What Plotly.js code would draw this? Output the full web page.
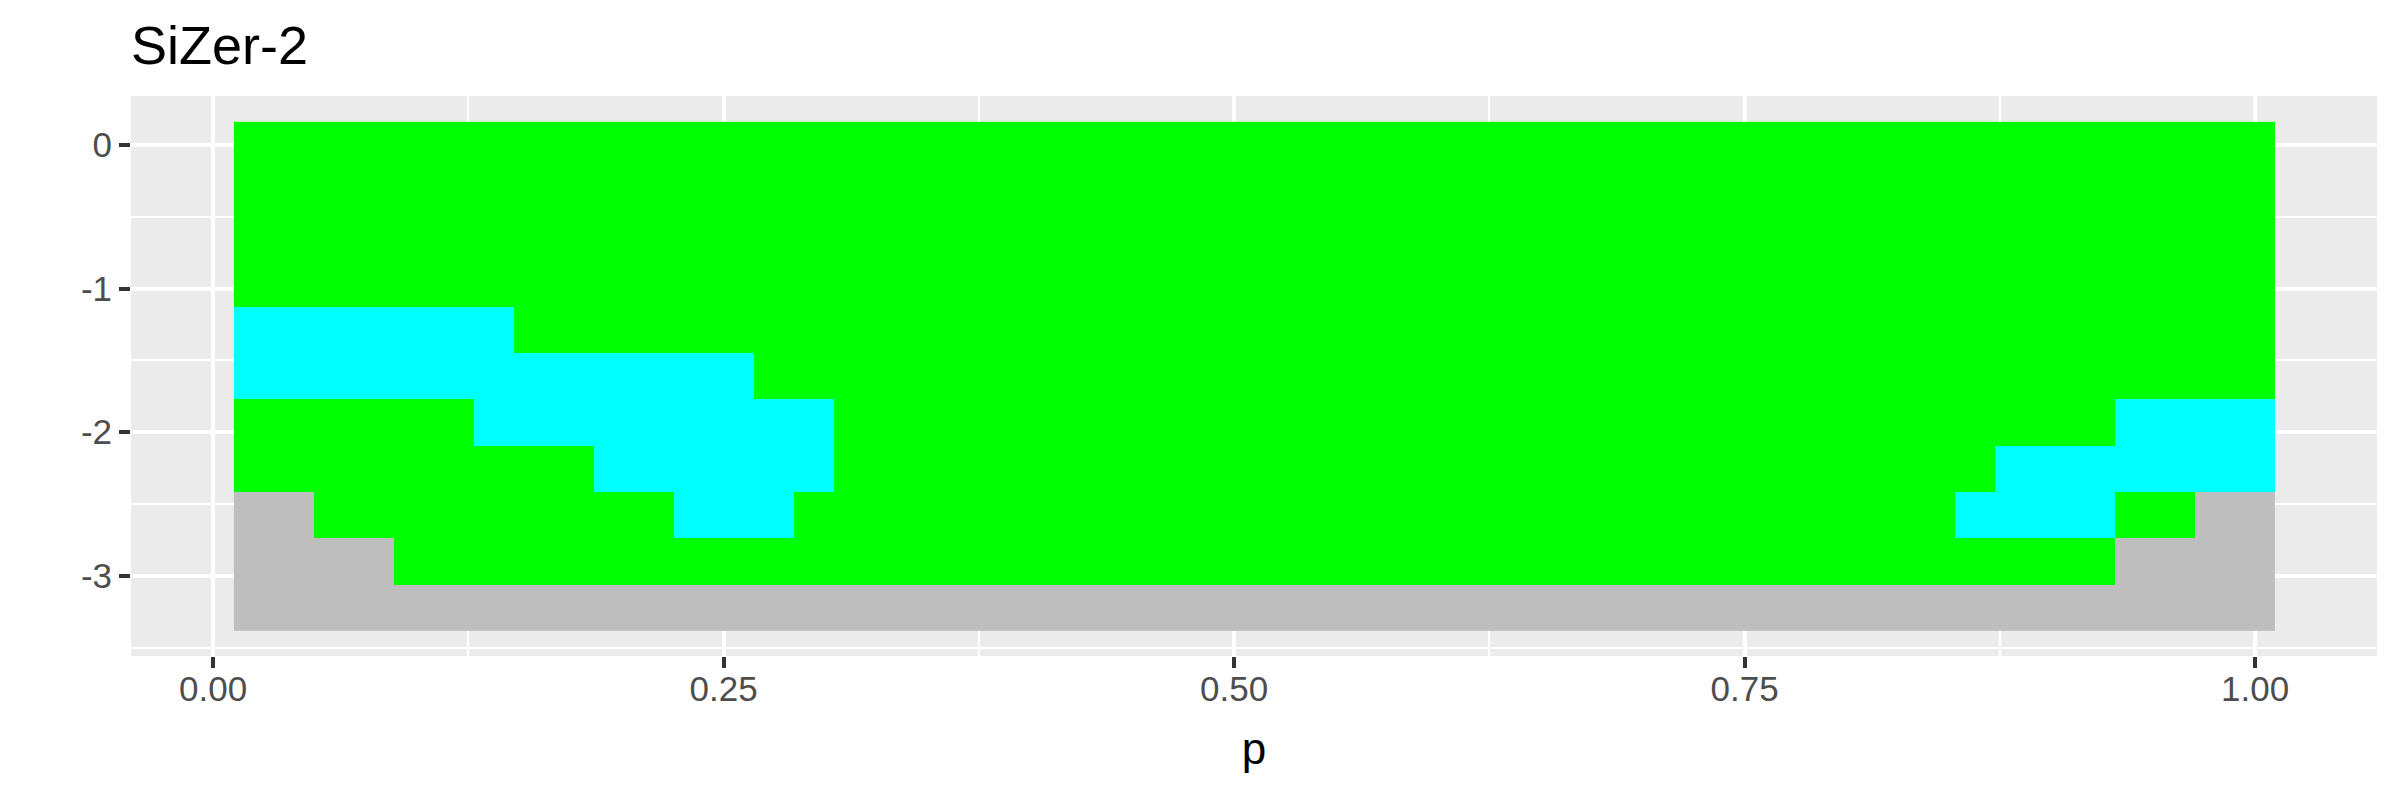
<!DOCTYPE html>
<html>
<head>
<meta charset="utf-8">
<script src="https://cdn.plot.ly/plotly-3.0.1.min.js"></script>
<style>html,body{margin:0;padding:0;background:#fff;}#chart{width:2400px;height:793px;}</style>
</head>
<body>
<div id="chart"></div>
<script>
// Location grid (cell centres along p)
const p = [0.0200, 0.0396, 0.0592, 0.0788, 0.0984, 0.1180, 0.1376, 0.1572, 0.1768, 0.1964,
           0.2160, 0.2356, 0.2552, 0.2748, 0.2944, 0.3140, 0.3336, 0.3532, 0.3728, 0.3924,
           0.4120, 0.4316, 0.4512, 0.4708, 0.4904, 0.5100, 0.5296, 0.5492, 0.5688, 0.5884,
           0.6080, 0.6276, 0.6472, 0.6668, 0.6864, 0.7060, 0.7256, 0.7452, 0.7648, 0.7844,
           0.8040, 0.8236, 0.8432, 0.8628, 0.8824, 0.9020, 0.9216, 0.9412, 0.9608, 0.9804,
           1.0000];
// Bandwidth grid (log scale), top row first
const logh = [0, -0.322, -0.644, -0.966, -1.288, -1.610, -1.932, -2.254, -2.576, -2.898, -3.220];
// Status per cell: G = green, C = cyan, X = grey (sparse data); one string per bandwidth row
const statusRows = [
  "GGGGGGGGGG GGGGGGGGGG GGGGGGGGGG GGGGGGGGGG GGGGGGGGGG G",
  "GGGGGGGGGG GGGGGGGGGG GGGGGGGGGG GGGGGGGGGG GGGGGGGGGG G",
  "GGGGGGGGGG GGGGGGGGGG GGGGGGGGGG GGGGGGGGGG GGGGGGGGGG G",
  "GGGGGGGGGG GGGGGGGGGG GGGGGGGGGG GGGGGGGGGG GGGGGGGGGG G",
  "CCCCCCCGGG GGGGGGGGGG GGGGGGGGGG GGGGGGGGGG GGGGGGGGGG G",
  "CCCCCCCCCC CCCGGGGGGG GGGGGGGGGG GGGGGGGGGG GGGGGGGGGG G",
  "GGGGGGCCCC CCCCCGGGGG GGGGGGGGGG GGGGGGGGGG GGGGGGGCCC C",
  "GGGGGGGGGC CCCCCGGGGG GGGGGGGGGG GGGGGGGGGG GGGGCCCCCC C",
  "XXGGGGGGGG GCCCGGGGGG GGGGGGGGGG GGGGGGGGGG GGGCCCCGGX X",
  "XXXXGGGGGG GGGGGGGGGG GGGGGGGGGG GGGGGGGGGG GGGGGGGXXX X",
  "XXXXXXXXXX XXXXXXXXXX XXXXXXXXXX XXXXXXXXXX XXXXXXXXXX X"
];
const statusCodes = ["X", "G", "C"];
const statusColors = ["#BEBEBE", "#00FF00", "#00FFFF"];

const xTicks = [0, 0.25, 0.5, 0.75, 1];
const xTickText = ["0.00", "0.25", "0.50", "0.75", "1.00"];
const yTicks = [0, -1, -2, -3];
const yTickText = ["0", "-1", "-2", "-3"];

const z = statusRows.map(r => r.replace(/ /g, "").split("").map(ch => statusCodes.indexOf(ch)));
const n = statusColors.length;
const colorscale = [];
statusColors.forEach((c, i) => {
  colorscale.push([i / n, c]);
  colorscale.push([(i + 1) / n, c]);
});

const font = "Liberation Sans, Arial, sans-serif";
const trace = {
  type: "heatmap",
  x: p,
  y: logh,
  z: z,
  zmin: -0.5,
  zmax: n - 0.5,
  colorscale: colorscale,
  showscale: false,
  hoverinfo: "skip"
};

const layout = {
  width: 2400,
  height: 793,
  margin: {l: 131, r: 23, t: 96, b: 137},
  paper_bgcolor: "#FFFFFF",
  plot_bgcolor: "#EBEBEB",
  font: {family: font},
  title: {
    text: "SiZer-2",
    font: {family: font, size: 54, color: "#000000"},
    x: 0, xref: "paper", xanchor: "left",
    y: 1 - 64 / 793, yref: "container", yanchor: "bottom"
  },
  xaxis: {
    range: [-0.0402, 1.0597],
    tickmode: "array", tickvals: xTicks, ticktext: xTickText,
    ticks: "outside", ticklen: 11, tickwidth: 4, tickcolor: "#333333",
    ticklabelstandoff: -9,
    tickfont: {family: font, size: 35, color: "#4D4D4D"},
    showgrid: true, gridcolor: "#FFFFFF", gridwidth: 4,
    minor: {tickvals: [0.125, 0.375, 0.625, 0.875], showgrid: true, gridcolor: "#FFFFFF", gridwidth: 2, ticks: ""},
    zeroline: false, showline: false,
    title: {text: "p", font: {family: font, size: 44, color: "#000000"}, standoff: 26}
  },
  yaxis: {
    range: [-3.559, 0.341],
    tickmode: "array", tickvals: yTicks, ticktext: yTickText,
    ticks: "outside", ticklen: 11, tickwidth: 4, tickcolor: "#333333",
    tickfont: {family: font, size: 35, color: "#4D4D4D"},
    showgrid: true, gridcolor: "#FFFFFF", gridwidth: 4,
    minor: {tickvals: [-0.5, -1.5, -2.5, -3.5], showgrid: true, gridcolor: "#FFFFFF", gridwidth: 2, ticks: ""},
    zeroline: false, showline: false
  },
  showlegend: false
};

Plotly.newPlot("chart", [trace], layout, {displayModeBar: false, staticPlot: true});
</script>
</body>
</html>
